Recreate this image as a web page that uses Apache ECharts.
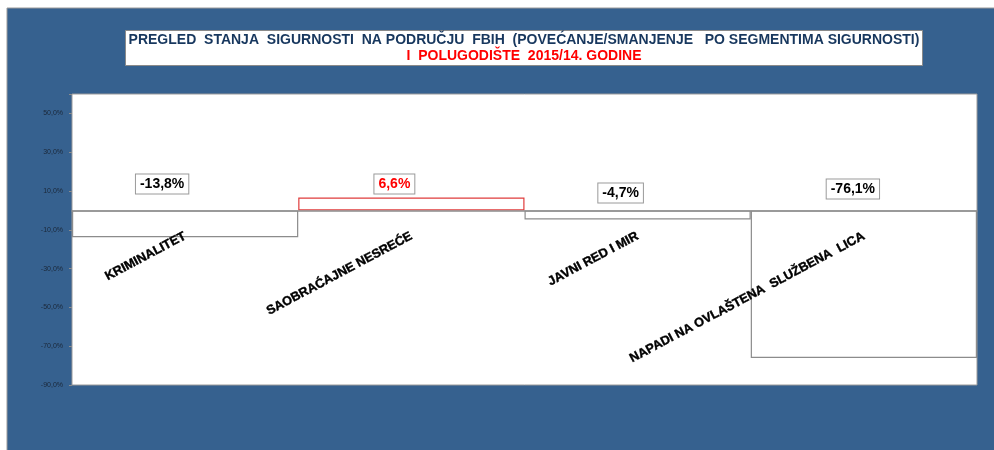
<!DOCTYPE html>
<html>
<head>
<meta charset="utf-8">
<script src="https://cdn.jsdelivr.net/npm/echarts@6/dist/echarts.min.js"></script>
<style>
  html, body { margin: 0; padding: 0; background: #fff; }
  #chart { width: 994px; height: 450px; }
</style>
</head>
<body>
<div id="chart"></div>
<script>
(function () {
  'use strict';

  // segmenti sigurnosti i promjena u %
  const categories = ['KRIMINALITET', 'SAOBRAĆAJNE NESREĆE', 'JAVNI RED I MIR', 'NAPADI NA OVLAŠTENA  SLUŽBENA  LICA'];
  const values = [-13.8, 6.6, -4.7, -76.1];
  const yTicks = { min: -90, max: 60, step: 20 };

  const titleLine1 = 'PREGLED  STANJA  SIGURNOSTI  NA PODRUČJU  FBIH  (POVEĆANJE/SMANJENJE   PO SEGMENTIMA SIGURNOSTI)';
  const titleLine2 = 'I  POLUGODIŠTE  2015/14. GODINE';

  const fmtPct = v => v.toFixed(1).replace('.', ',') + '%';

  // pomak natpisa (px) po stupcu
  const labelShift = [[-23, -12], [-17, 1], [-17, -3], [-11, -7]];

  const chart = echarts.init(document.getElementById('chart'));

  const barData = values.map((v, i) => {
    const red = v > 0;
    return {
      value: v,
      itemStyle: { color: '#fff', borderColor: red ? '#e03c3c' : '#8c8c8c', borderWidth: 1.2 },
      label: {
        offset: labelShift[i],
        color: red ? '#ff0000' : '#000'
      }
    };
  });

  const gridBottom = 65;

  chart.setOption({
    backgroundColor: '#fff',
    animation: false,
    graphic: [{
      type: 'rect', z: -10, silent: true,
      shape: { x: 7, y: 8, width: 990, height: 445 },
      style: { fill: '#36618f', stroke: '#9a9a9a', lineWidth: 1 }
    }],
    title: {
      left: 129, top: 29,
      backgroundColor: '#fff', borderColor: '#8a8a8a', borderWidth: 1,
      padding: [3, 3, 3, 3],
      text: '{a|' + titleLine1 + '}\n{b|' + titleLine2 + '}',
      textStyle: {
        rich: {
          a: { width: 784, align: 'center', fontFamily: 'Liberation Sans', fontWeight: 'bold', fontSize: 14, color: '#17375e', lineHeight: 16 },
          b: { width: 784, align: 'center', fontFamily: 'Liberation Sans', fontWeight: 'bold', fontSize: 14, color: '#ff0000', lineHeight: 16 }
        }
      }
    },
    grid: {
      left: 72, right: 17, top: 94, bottom: gridBottom,
      show: true, backgroundColor: '#fff', borderColor: '#9a9a9a', borderWidth: 1,
      containLabel: false, outerBoundsMode: 'none'
    },
    xAxis: {
      type: 'category',
      data: categories,
      z: 5,
      axisLine: { onZero: false, lineStyle: { color: '#8c8c8c', width: 1.5 } },
      axisTick: { show: false },
      axisLabel: {
        interval: 0, rotate: 28, margin: 25,
        fontFamily: 'Liberation Sans', fontWeight: 'bold', fontSize: 12.7, color: '#000',
        textBorderColor: '#000', textBorderWidth: 0.4
      },
      splitLine: { show: false }
    },
    yAxis: {
      type: 'value',
      min: yTicks.min, max: yTicks.max, interval: yTicks.step,
      axisLine: { show: false },
      axisTick: { show: true, length: 3, lineStyle: { color: '#8c8c8c' } },
      axisLabel: {
        margin: 9, fontFamily: 'Liberation Sans', fontSize: 7, color: '#1b2738',
        formatter: v => (v === yTicks.max ? '' : fmtPct(v))
      },
      splitLine: { show: false }
    },
    series: [{
      type: 'bar',
      data: barData,
      barWidth: '100%',
      barCategoryGap: '0%',
      label: {
        show: true, position: 'top', distance: 5,
        formatter: p => fmtPct(p.value),
        fontFamily: 'Liberation Sans', fontWeight: 'bold', fontSize: 14,
        backgroundColor: '#fff', borderColor: '#9a9a9a', borderWidth: 1,
        padding: [3, 4, 2, 4]
      }
    }]
  });

  // os kategorija pomaknuta na nultu liniju (sa natpisima)
  const zeroY = chart.convertToPixel({ yAxisIndex: 0 }, 0);
  const bottomY = chart.getHeight() - gridBottom;
  chart.setOption({ xAxis: { offset: zeroY - bottomY } });

  window.addEventListener('resize', () => chart.resize());
})();
</script>
</body>
</html>
